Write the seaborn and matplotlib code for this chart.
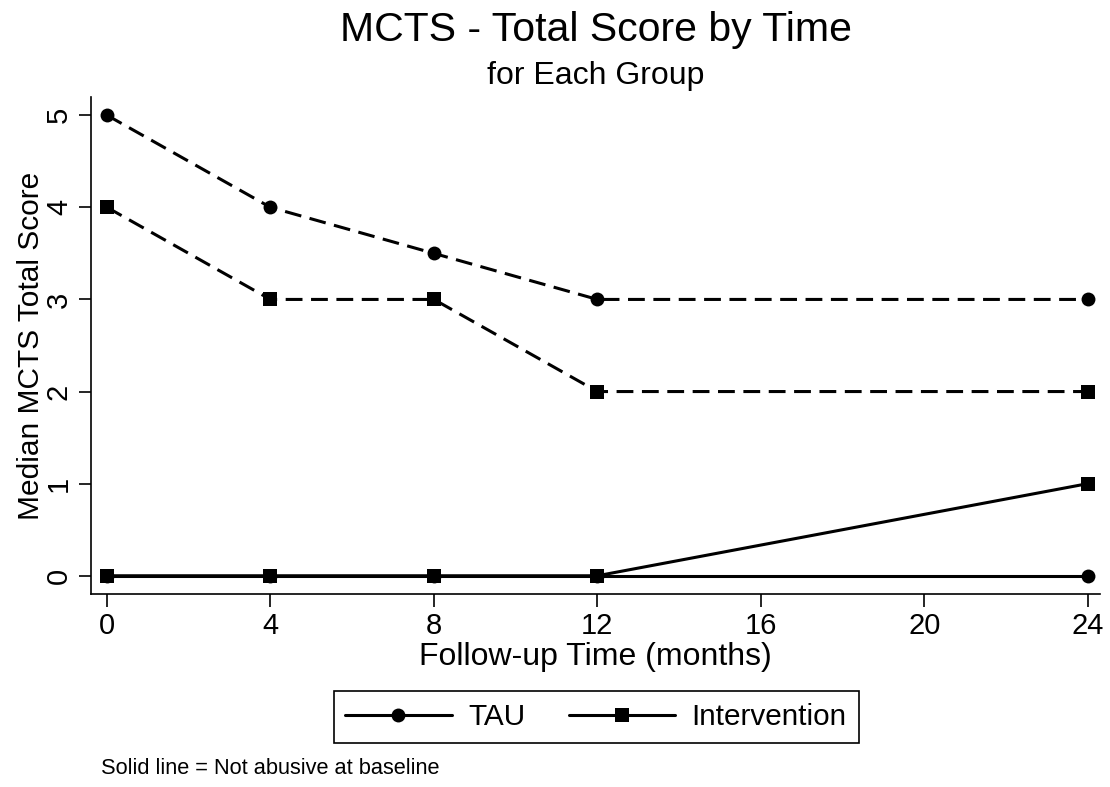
import matplotlib.pyplot as plt
import pandas as pd
import seaborn as sns
from matplotlib.lines import Line2D

# Data
months = [0, 4, 8, 12, 24]
tau_abusive = [5, 4, 3.5, 3, 3]
int_abusive = [4, 3, 3, 2, 2]
tau_not_abusive = [0, 0, 0, 0, 0]
int_not_abusive = [0, 0, 0, 0, 1]

groups = ['TAU', 'Intervention']
x_ticks = [0, 4, 8, 12, 16, 20, 24]
y_ticks = [0, 1, 2, 3, 4, 5]

rows = []
for grp, base, vals in [('TAU', 'Abusive', tau_abusive),
                        ('Intervention', 'Abusive', int_abusive),
                        ('TAU', 'Not abusive', tau_not_abusive),
                        ('Intervention', 'Not abusive', int_not_abusive)]:
    for m, v in zip(months, vals):
        rows.append({'Month': m, 'Score': v, 'Group': grp, 'Baseline': base})
df = pd.DataFrame(rows)

sns.set_style('white')
plt.rcParams['font.family'] = ['Liberation Sans', 'DejaVu Sans']
plt.rcParams['text.color'] = 'black'
plt.rcParams['axes.labelcolor'] = 'black'
plt.rcParams['xtick.color'] = 'black'
plt.rcParams['ytick.color'] = 'black'

fig = plt.figure(figsize=(11.1, 7.87), dpi=100)
ax = fig.add_axes([0.082, 0.245, 0.909, 0.632])

markers = {'TAU': 'o', 'Intervention': 's'}
sizes = {'TAU': 10, 'Intervention': 10.5}
for base in ['Abusive', 'Not abusive']:
    for grp in groups:
        sub = df[(df['Group'] == grp) & (df['Baseline'] == base)]
        n_before = len(ax.lines)
        sns.lineplot(data=sub, x='Month', y='Score', ax=ax, color='black',
                     marker=markers[grp], markersize=sizes[grp], markeredgewidth=0,
                     linewidth=2.2, legend=False)
        # dashed lines = abusive at baseline
        if base == 'Abusive':
            for ln in ax.lines[n_before:]:
                ln.set_dashes((5.5, 2.8))

ax.set_xlim(-0.39, 24.3)
ax.set_ylim(-0.2, 5.2)
ax.set_xticks(x_ticks)
ax.set_yticks(y_ticks)
ax.set_xticklabels([str(t) for t in x_ticks], fontsize=21)
ax.set_yticklabels([str(t) for t in y_ticks], fontsize=21, rotation=90, va='center')
ax.tick_params(axis='both', direction='out', length=9, width=1.2, color='black',
               bottom=True, left=True, pad=4)
for s in ['top', 'right']:
    ax.spines[s].set_visible(False)
for s in ['left', 'bottom']:
    ax.spines[s].set_color('black')
    ax.spines[s].set_linewidth(1.2)

ax.set_xlabel('Follow-up Time (months)', fontsize=23, labelpad=1)
ax.set_ylabel('Median MCTS Total Score', fontsize=21.5, labelpad=0)

fig.text(0.537, 0.962, 'MCTS - Total Score by Time', ha='center', va='center', fontsize=29.5)
fig.text(0.537, 0.904, 'for Each Group', ha='center', va='center', fontsize=23)

handles = [Line2D([], [], color='black', linewidth=2.2, marker=markers[g],
                  markersize=sizes[g], markeredgewidth=0) for g in groups]
leg = fig.legend(handles, groups, loc='center', bbox_to_anchor=(0.537, 0.089),
                 ncol=2, fontsize=21.4, frameon=True, fancybox=False, framealpha=1,
                 handlelength=3.57, columnspacing=1.45, handletextpad=0.57,
                 borderpad=0.4)
leg.get_frame().set_edgecolor('black')
leg.get_frame().set_linewidth(1.2)

fig.text(0.091, 0.023, 'Solid line = Not abusive at baseline', ha='left', va='center', fontsize=15.7)

fig.savefig('out.png', dpi=100, facecolor='white')
